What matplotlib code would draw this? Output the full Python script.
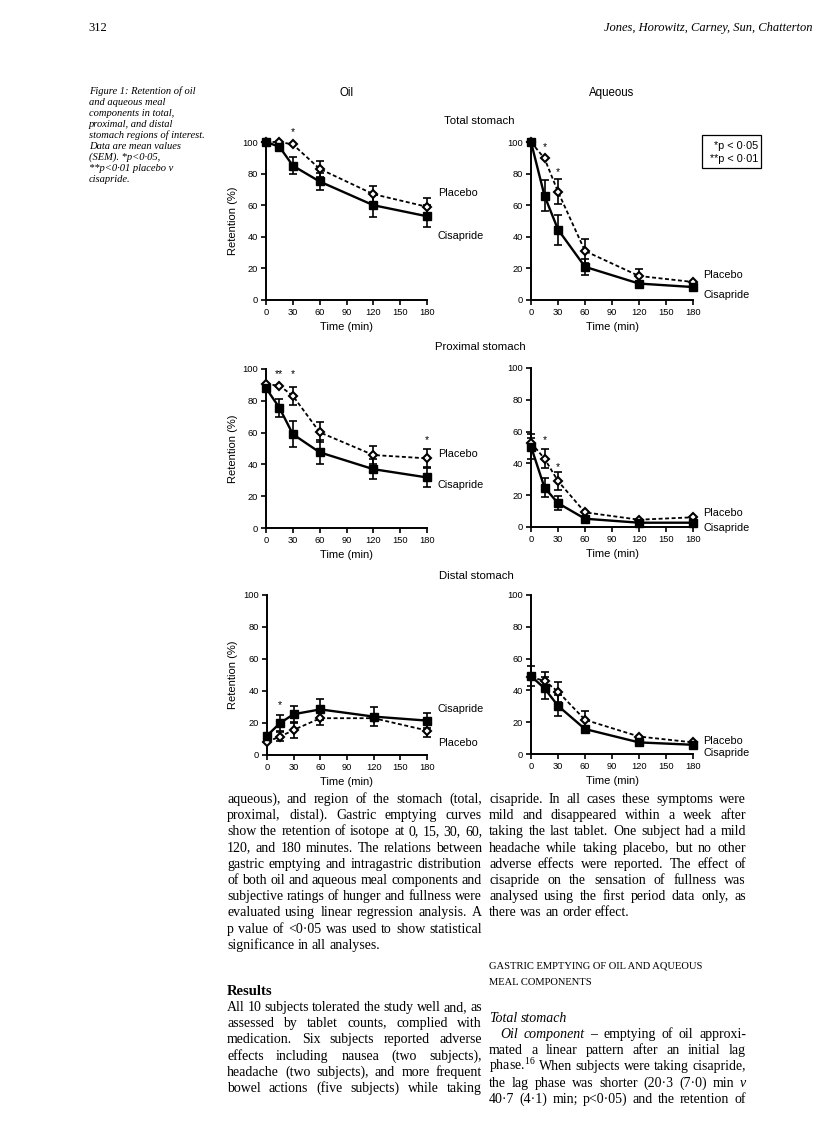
import matplotlib
matplotlib.use("Agg")
import matplotlib.pyplot as plt
from matplotlib.patches import Rectangle

plt.rcParams['mathtext.fontset'] = 'custom'
plt.rcParams['mathtext.rm'] = 'Liberation Serif'

W, H = 816, 1145
fig = plt.figure(figsize=(W / 100, H / 100), dpi=100)
renderer = fig.canvas.get_renderer()

SANS = 'Liberation Sans'
SERIF = 'Liberation Serif'

# ---------------- data ----------------
times = [0, 15, 30, 60, 120, 180]
xticks = [0, 30, 60, 90, 120, 150, 180]
yticks = [0, 20, 40, 60, 80, 100]

oil_total_cis = [100, 97, 85, 75, 60, 53]
oil_total_cis_err = [0, 0, 5.3, 5.3, 7.5, 7]
oil_total_pla = [100, 100, 98.5, 83, 67, 59]
oil_total_pla_err = [0, 0, 0, 5, 5, 5.6]

aq_total_cis = [100, 66, 44.6, 21, 10.4, 8.2]
aq_total_cis_err = [0, 9.7, 9.5, 5, 0, 0]
aq_total_pla = [100, 89.6, 68.5, 31, 15.2, 11.4]
aq_total_pla_err = [0, 0, 7.8, 7.6, 4.3, 0]

oil_prox_cis = [88, 75.6, 59, 47.6, 37, 31.8]
oil_prox_cis_err = [0, 5.7, 8.2, 7.5, 6.4, 6]
oil_prox_pla = [90.5, 89.5, 83.2, 60.2, 45.9, 43.8]
oil_prox_pla_err = [0, 0, 5.6, 6.3, 5.7, 5.7]

aq_prox_cis = [50.6, 24.8, 15, 5.2, 2.7, 2.7]
aq_prox_cis_err = [8, 5.8, 4.4, 0, 0, 0]
aq_prox_pla = [53, 43, 28.9, 9.2, 4.6, 6.1]
aq_prox_pla_err = [3, 5.8, 5.7, 0, 0, 0]

oil_dist_cis = [12.1, 20.1, 25.5, 28.5, 24, 21.5]
oil_dist_cis_err = [0, 5.2, 5.4, 6.6, 5.8, 4.8]
oil_dist_pla = [8.4, 11.5, 15.7, 23, 23, 15.3]
oil_dist_pla_err = [0, 3, 4.8, 4.2, 0, 4.2]

aq_dist_cis = [49, 41.3, 30.3, 15.7, 7.3, 5.8]
aq_dist_cis_err = [6.5, 7, 6.7, 0, 0, 0]
aq_dist_pla = [48.2, 46.1, 39.2, 21.5, 11, 7.3]
aq_dist_pla_err = [0, 5.7, 6.3, 5.8, 0, 0]

oil_total_stars = [(30, 106, '*')]
aq_total_stars = [(15, 96.6, '*'), (30, 81, '*')]
oil_prox_stars = [(15, 96.8, '**'), (30, 96.8, '*'), (180, 55.4, '*')]
aq_prox_stars = [(15, 54.8, '*'), (30, 37.7, '*')]
oil_dist_stars = [(15, 31.2, '*')]
aq_dist_stars = []

panels = [
    # (left px, top px, right px, bottom px, cis, cis_err, pla, pla_err, stars, ylabel, labels)
    (266, 142, 427, 300, oil_total_cis, oil_total_cis_err, oil_total_pla, oil_total_pla_err,
     oil_total_stars, True, [('Placebo', 438, 193), ('Cisapride', 438, 236)]),
    (531, 142, 693, 300, aq_total_cis, aq_total_cis_err, aq_total_pla, aq_total_pla_err,
     aq_total_stars, False, [('Placebo', 703, 275), ('Cisapride', 703, 295)]),
    (266, 369, 427, 528, oil_prox_cis, oil_prox_cis_err, oil_prox_pla, oil_prox_pla_err,
     oil_prox_stars, True, [('Placebo', 438, 454), ('Cisapride', 438, 485)]),
    (531, 368, 693, 527, aq_prox_cis, aq_prox_cis_err, aq_prox_pla, aq_prox_pla_err,
     aq_prox_stars, False, [('Placebo', 703, 513), ('Cisapride', 703, 528)]),
    (267, 595, 427, 755, oil_dist_cis, oil_dist_cis_err, oil_dist_pla, oil_dist_pla_err,
     oil_dist_stars, True, [('Cisapride', 438, 709), ('Placebo', 438, 743)]),
    (531, 595, 693, 754, aq_dist_cis, aq_dist_cis_err, aq_dist_pla, aq_dist_pla_err,
     aq_dist_stars, False, [('Placebo', 703, 741), ('Cisapride', 703, 753)]),
]


def fx(x):
    return x / W


def fy(y):
    return 1 - y / H


def errbars(ax, vals, errs):
    xs = [t for t, e in zip(times, errs) if e > 0]
    ys = [v for v, e in zip(vals, errs) if e > 0]
    es = [e for e in errs if e > 0]
    if xs:
        ax.errorbar(xs, ys, yerr=es, fmt='none', ecolor='black', elinewidth=1.2,
                    capsize=2.8, capthick=1.2, zorder=3, clip_on=False)


for (l, t, r, b, cis, cise, pla, plae, stars, ylab, labels) in panels:
    ax = fig.add_axes([fx(l), fy(b), (r - l) / W, (b - t) / H])
    ax.set_xlim(0, 180)
    ax.set_ylim(0, 100)
    for s in ['top', 'right']:
        ax.spines[s].set_visible(False)
    for s in ['left', 'bottom']:
        ax.spines[s].set_linewidth(1.4)
    ax.set_xticks(xticks)
    ax.set_yticks(yticks)
    ax.tick_params(direction='out', length=3.5, width=1.2, pad=2, labelsize=6.7)
    for lab in ax.get_xticklabels() + ax.get_yticklabels():
        lab.set_family(SANS)
    errbars(ax, pla, plae)
    errbars(ax, cis, cise)
    ax.plot(times, pla, color='black', lw=1.3, ls=(0, (2.2, 1.4)), marker='D', ms=4.3,
            mfc='white', mec='black', mew=1.5, zorder=4, clip_on=False)
    ax.plot(times, cis, color='black', lw=1.7, ls='-', marker='s', ms=6.2,
            mfc='black', mec='black', zorder=5, clip_on=False)
    for (sx, sy, st) in stars:
        ax.text(sx, sy, st, ha='center', va='center', fontsize=7.5, family=SANS,
                clip_on=False)
    fig.text(fx((l + r) / 2), fy(b + 27), 'Time (min)', ha='center', va='center',
             fontsize=8, family=SANS)
    if ylab:
        fig.text(fx(233), fy((t + b) / 2), 'Retention (%)', ha='center', va='center',
                 rotation=90, fontsize=8, family=SANS)
    for (txt, lx, ly) in labels:
        fig.text(fx(lx), fy(ly), txt, ha='left', va='center', fontsize=7.8, family=SANS)

# column / section titles
fig.text(fx(347), fy(93), 'Oil', ha='center', va='center', fontsize=8.3, family=SANS)
fig.text(fx(612), fy(93), 'Aqueous', ha='center', va='center', fontsize=8.3, family=SANS)
fig.text(fx(444), fy(121), 'Total stomach', ha='left', va='center', fontsize=8.2, family=SANS)
fig.text(fx(435), fy(347), 'Proximal stomach', ha='left', va='center', fontsize=8.2, family=SANS)
fig.text(fx(439), fy(576), 'Distal stomach', ha='left', va='center', fontsize=8.2, family=SANS)

# significance key box
fig.patches.append(Rectangle((fx(702), fy(168)), (761 - 702) / W, (168 - 135) / H,
                             transform=fig.transFigure, fill=False, ec='black', lw=0.9))
fig.text(fx(758), fy(146), '*p < 0·05', ha='right', va='center', fontsize=7.8, family=SANS)
fig.text(fx(758), fy(159), '**p < 0·01', ha='right', va='center', fontsize=7.8, family=SANS)

# header
fig.text(fx(88), fy(31), '312', ha='left', va='baseline', fontsize=9, family=SERIF)
fig.text(fx(812), fy(31), 'Jones, Horowitz, Carney, Sun, Chatterton', ha='right',
         va='baseline', fontsize=9, family=SERIF, style='italic')

# figure caption
caption = ["Figure 1: Retention of oil", "and aqueous meal", "components in total,",
           "proximal, and distal", "stomach regions of interest.", "Data are mean values",
           "(SEM). *p<0·05,", "**p<0·01 placebo v", "cisapride."]
for i, line in enumerate(caption):
    fig.text(fx(89), fy(94 + 11 * i), line, ha='left', va='baseline', fontsize=7.6,
             family=SERIF, style='italic')


def text_line(x0, x1, ybase, line, size, justify=True, weight='normal'):
    words = line.split(' ')
    objs, widths = [], []
    for w in words:
        ital = w.startswith('_')
        w = w.lstrip('_')
        tt = fig.text(0, fy(ybase), w, fontsize=size, family=SERIF,
                      style='italic' if ital else 'normal', weight=weight,
                      ha='left', va='baseline')
        objs.append(tt)
        widths.append(tt.get_window_extent(renderer).width)
    if justify and len(objs) > 1:
        gap = (x1 - x0 - sum(widths)) / (len(objs) - 1)
    else:
        gap = size * 0.25 * 100 / 72
    x = x0
    for tt, w in zip(objs, widths):
        tt.set_x(fx(x))
        x += w + gap


BS = 10.0
LS = 16.2
LX0, LX1 = 227, 482
RX0, RX1 = 489, 746

left1 = ["aqueous), and region of the stomach (total,",
         "proximal, distal). Gastric emptying curves",
         "show the retention of isotope at 0, 15, 30, 60,",
         "120, and 180 minutes. The relations between",
         "gastric emptying and intragastric distribution",
         "of both oil and aqueous meal components and",
         "subjective ratings of hunger and fullness were",
         "evaluated using linear regression analysis. A",
         "p value of <0·05 was used to show statistical",
         "significance in all analyses."]
right1 = ["cisapride. In all cases these symptoms were",
          "mild and disappeared within a week after",
          "taking the last tablet. One subject had a mild",
          "headache while taking placebo, but no other",
          "adverse effects were reported. The effect of",
          "cisapride on the sensation of fullness was",
          "analysed using the first period data only, as",
          "there was an order effect."]
y0 = 803
for i, line in enumerate(left1):
    text_line(LX0, LX1, y0 + LS * i, line, BS, justify=(i < len(left1) - 1))
for i, line in enumerate(right1):
    text_line(RX0, RX1, y0 + LS * i, line, BS, justify=(i < len(right1) - 1))

fig.text(fx(RX0), fy(969), 'GASTRIC EMPTYING OF OIL AND AQUEOUS', ha='left', va='baseline',
         fontsize=7.6, family=SERIF)
fig.text(fx(RX0), fy(985), 'MEAL COMPONENTS', ha='left', va='baseline',
         fontsize=7.6, family=SERIF)

fig.text(fx(LX0), fy(995), 'Results', ha='left', va='baseline', fontsize=10.5,
         family=SERIF, weight='bold')
left2 = ["All 10 subjects tolerated the study well and, as",
         "assessed by tablet counts, complied with",
         "medication. Six subjects reported adverse",
         "effects including nausea (two subjects),",
         "headache (two subjects), and more frequent",
         "bowel actions (five subjects) while taking"]
for i, line in enumerate(left2):
    text_line(LX0, LX1, 1011 + LS * i, line, BS)

text_line(RX0, RX1, 1022, "_Total _stomach", BS, justify=False)
right2 = ["_Oil _component – emptying of oil approxi-",
          "mated a linear pattern after an initial lag",
          "phase.$^{16}$ When subjects were taking cisapride,",
          "the lag phase was shorter (20·3 (7·0) min _v",
          "40·7 (4·1) min; p<0·05) and the retention of"]
for i, line in enumerate(right2):
    x0 = RX0 + 11 if i == 0 else RX0
    text_line(x0, RX1, 1038 + LS * i, line, BS)

fig.savefig('out.png', dpi=100)
